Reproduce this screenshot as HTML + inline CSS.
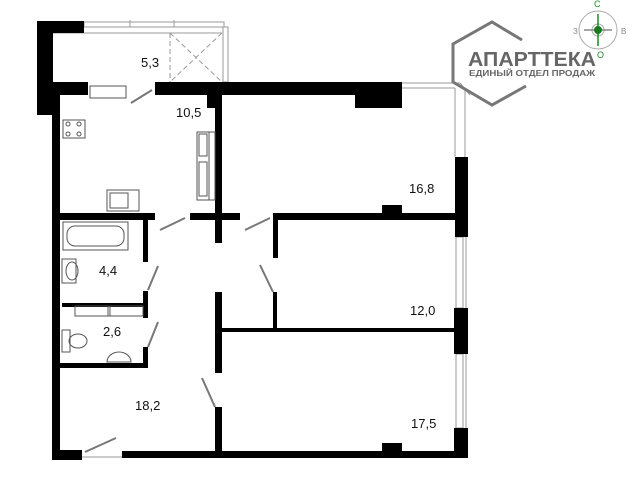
<!DOCTYPE html>
<html><head><meta charset="utf-8"><style>
html,body{margin:0;padding:0;background:#fff;}
svg{display:block;}
text{font-family:"Liberation Sans",sans-serif;}
</style></head><body>
<svg width="640" height="491" viewBox="0 0 640 491" xmlns="http://www.w3.org/2000/svg">
<g fill="none" stroke="#999" stroke-width="1">
<rect x="84" y="22" width="140" height="5"/>
<line x1="130" y1="20" x2="130" y2="27"/><line x1="174" y1="20" x2="174" y2="27"/>
<rect x="223" y="27" width="5" height="55"/>
<line x1="52" y1="33" x2="222" y2="33"/>
<line x1="402" y1="83" x2="460" y2="83"/><line x1="402" y1="88" x2="455" y2="88"/>
<line x1="455" y1="88" x2="455" y2="157"/><line x1="465" y1="88" x2="465" y2="157"/>
<line x1="460" y1="83" x2="470" y2="95"/>
<rect x="456" y="237" width="7" height="71"/>
<line x1="466" y1="237" x2="466" y2="308"/>
<rect x="456" y="354" width="7" height="74"/>
<line x1="466" y1="354" x2="466" y2="428"/>
<line x1="82" y1="457" x2="122" y2="457"/>
</g>
<g stroke="#999" stroke-width="1" stroke-dasharray="5,3" fill="none">
<line x1="170" y1="33" x2="170" y2="82"/>
<line x1="170" y1="33" x2="222" y2="82"/><line x1="222" y1="33" x2="170" y2="82"/>
</g>
<g fill="#000">
<rect x="37" y="21" width="47" height="12"/>
<rect x="37" y="21" width="16" height="94"/>
<rect x="52" y="95" width="8" height="363"/>
<rect x="52" y="82" width="36" height="13"/>
<rect x="155" y="82" width="247" height="13"/>
<rect x="355" y="95" width="47" height="13"/>
<rect x="207" y="95" width="15" height="13"/>
<rect x="215" y="95" width="7" height="148"/>
<rect x="60" y="213" width="95" height="7"/>
<rect x="190" y="213" width="50" height="7"/>
<rect x="274" y="213" width="181" height="7"/>
<rect x="382" y="205" width="20" height="8"/>
<rect x="273" y="213" width="5" height="45"/>
<rect x="455" y="157" width="13" height="80"/>
<rect x="143" y="220" width="5" height="42"/>
<rect x="62" y="303" width="81" height="4"/>
<rect x="143" y="291" width="5" height="27"/>
<rect x="143" y="347" width="5" height="21"/>
<rect x="60" y="363" width="88" height="5"/>
<rect x="215" y="292" width="7" height="81"/>
<rect x="215" y="407" width="7" height="51"/>
<rect x="222" y="328" width="233" height="4"/>
<rect x="273" y="292" width="4" height="36"/>
<rect x="454" y="308" width="14" height="46"/>
<rect x="454" y="428" width="14" height="30"/>
<rect x="122" y="451" width="346" height="7"/>
<rect x="52" y="450" width="30" height="10"/>
<rect x="382" y="443" width="20" height="9"/>
</g>
<g fill="none" stroke="#555" stroke-width="1">
<rect x="197" y="132" width="12" height="68"/>
<rect x="199" y="134" width="8" height="22"/><rect x="199" y="162" width="8" height="34"/>
<rect x="209" y="132" width="6" height="68"/>
<rect x="63" y="120" width="22" height="18"/>
<circle cx="68" cy="124" r="2"/><circle cx="79" cy="124" r="2"/><circle cx="68" cy="134" r="2"/><circle cx="79" cy="134" r="2"/>
<rect x="107" y="190" width="32" height="21"/><rect x="110" y="193" width="18" height="15"/>
<rect x="63" y="222" width="65" height="28"/><rect x="67" y="226" width="57" height="20" rx="8"/>
<rect x="62" y="259" width="14" height="24"/><ellipse cx="72" cy="271" rx="6" ry="9"/>
<rect x="75" y="306" width="35" height="10"/><rect x="108" y="306" width="35" height="10"/>
<rect x="62" y="330" width="8" height="22"/><ellipse cx="78" cy="341" rx="9" ry="7"/>
<path d="M107 362 a12 10 0 0 1 24 0 z"/>
<rect x="90" y="86" width="36" height="12"/>
</g>
<g stroke="#777" stroke-width="2">
<line x1="131" y1="103" x2="152" y2="90"/>
<line x1="160" y1="230" x2="185" y2="218"/>
<line x1="245" y1="230" x2="270" y2="218"/>
<line x1="148" y1="290" x2="158" y2="266"/>
<line x1="148" y1="347" x2="158" y2="322"/>
<line x1="273" y1="292" x2="260" y2="265"/>
<line x1="215" y1="407" x2="202" y2="378"/>
<line x1="85" y1="452" x2="116" y2="438"/>
</g>
<g font-size="13" fill="#111">
<text x="141" y="67">5,3</text>
<text x="176" y="117">10,5</text>
<text x="409" y="193">16,8</text>
<text x="99" y="275">4,4</text>
<text x="103" y="336">2,6</text>
<text x="410" y="315">12,0</text>
<text x="135" y="410">18,2</text>
<text x="411" y="428">17,5</text>
</g>
<!-- logo hexagon -->
<path d="M522 40 L492 22 L453 44 L453 82 L492 105 L526 86" fill="none" stroke="#777" stroke-width="3"/>
<text x="468" y="66" font-size="20" font-weight="bold" fill="#666" textLength="128" lengthAdjust="spacingAndGlyphs">АПАРТТЕКА</text>
<text x="469" y="76" font-size="8.5" font-weight="bold" fill="#666" textLength="126" lengthAdjust="spacingAndGlyphs">ЕДИНЫЙ ОТДЕЛ ПРОДАЖ</text>
<circle cx="598" cy="30" r="19" fill="none" stroke="#aaa"/>
<circle cx="598" cy="30" r="6" fill="none" stroke="#aaa"/>
<line x1="584" y1="30" x2="612" y2="30" stroke="#888" stroke-width="1.5"/>
<line x1="598" y1="14" x2="598" y2="46" stroke="#1a8a2a" stroke-width="1.5"/>
<circle cx="598" cy="30" r="4" fill="#1a7a20"/>
<text x="594" y="7" font-size="9" fill="#1a8a2a">С</text>
<text x="573" y="34" font-size="8" fill="#888">З</text>
<text x="621" y="34" font-size="8" fill="#888">В</text>
<text x="597" y="58" font-size="9" fill="#1a8a2a">О</text>
</svg>
</body></html>
